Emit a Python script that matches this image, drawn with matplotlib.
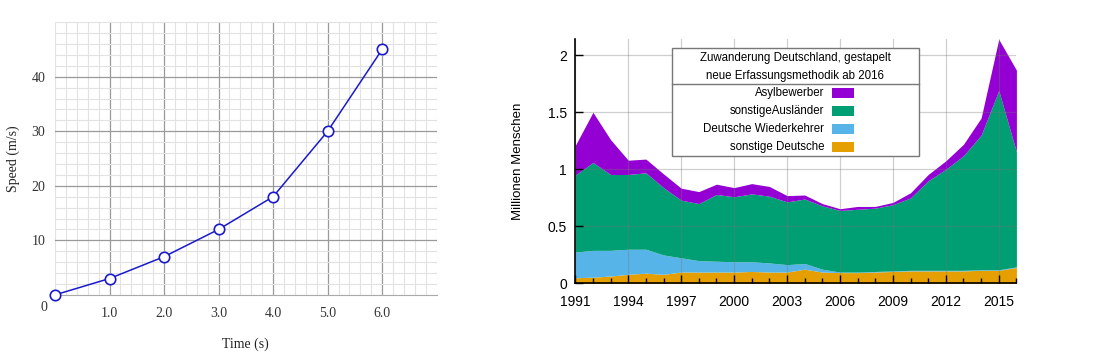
import matplotlib
matplotlib.use("Agg")
import matplotlib.pyplot as plt
from matplotlib.ticker import MultipleLocator, FuncFormatter
from matplotlib.lines import Line2D
from matplotlib.patches import Rectangle
import numpy as np

# === Left chart data: speed over time ===
time_s = [0, 1, 2, 3, 4, 5, 6]
speed_ms = [0, 3, 7, 12, 18, 30, 45]

# === Right chart data: Zuwanderung Deutschland (cumulative tops) ===
years = list(range(1991, 2017))
top_sonst_deutsche = [0.05, 0.055, 0.065, 0.08, 0.09, 0.08, 0.10, 0.10, 0.10, 0.10,
                      0.105, 0.10, 0.10, 0.125, 0.10, 0.095, 0.095, 0.10, 0.105, 0.11,
                      0.11, 0.11, 0.11, 0.115, 0.115, 0.14]
top_wiederkehrer = [0.275, 0.29, 0.29, 0.30, 0.30, 0.25, 0.225, 0.20, 0.195, 0.19,
                    0.19, 0.18, 0.165, 0.175, 0.125, 0.10, 0.10, 0.105, 0.11, 0.115,
                    0.115, 0.115, 0.115, 0.12, 0.12, 0.145]
top_auslaender = [0.95, 1.06, 0.955, 0.955, 0.97, 0.84, 0.73, 0.70, 0.78, 0.76,
                  0.785, 0.765, 0.715, 0.74, 0.68, 0.64, 0.65, 0.66, 0.69, 0.75,
                  0.90, 1.00, 1.12, 1.30, 1.69, 1.155]
top_asyl = [1.21, 1.50, 1.26, 1.08, 1.09, 0.96, 0.835, 0.805, 0.87, 0.84,
            0.875, 0.85, 0.77, 0.775, 0.70, 0.655, 0.675, 0.675, 0.71, 0.795,
            0.955, 1.075, 1.22, 1.45, 2.14, 1.87]
series_names = ["sonstige Deutsche", "Deutsche Wiederkehrer", "sonstigeAusländer", "Asylbewerber"]
series_colors = ["#E69F00", "#56B4E9", "#009E73", "#9400D3"]
legend_title = ["Zuwanderung Deutschland, gestapelt", "neue Erfassungsmethodik ab 2016"]
x_tick_years = list(range(1991, 2017, 3))

sans = ["Liberation Sans", "DejaVu Sans"]
serif = ["Liberation Serif", "DejaVu Serif"]

fig = plt.figure(figsize=(11, 3.57), dpi=100)
W, H = 1100.0, 357.0


def fx(px):
    return px / W


def fy(py):
    return 1 - py / H


# ---------------- Left chart ----------------
ax1 = fig.add_axes([0.05, 0.174, 0.347, 0.764])
ax1.set_xlim(0, 7)
ax1.set_ylim(0, 50)
ax1.xaxis.set_major_locator(MultipleLocator(1))
ax1.xaxis.set_minor_locator(MultipleLocator(0.2))
ax1.yaxis.set_major_locator(MultipleLocator(10))
ax1.yaxis.set_minor_locator(MultipleLocator(2))
ax1.grid(which="minor", color="#e2e2e2", linewidth=0.8)
ax1.grid(which="major", color="#9a9a9a", linewidth=0.9)
ax1.set_axisbelow(True)
for s in ["top", "right", "left"]:
    ax1.spines[s].set_visible(False)
ax1.spines["bottom"].set_color("#aaaaaa")
ax1.tick_params(which="both", length=0)
ax1.tick_params(axis="x", pad=9)
ax1.tick_params(axis="y", pad=7)
ax1.set_xticks([1, 2, 3, 4, 5, 6])
ax1.set_xticklabels([f"{v:.1f}" for v in [1, 2, 3, 4, 5, 6]], family=serif, fontsize=10, color="#333333")
ax1.set_yticks([10, 20, 30, 40])
ax1.set_yticklabels(["10", "20", "30", "40"], family=serif, fontsize=10, color="#333333")
ax1.annotate("0", (0, 0), xytext=(-8, -9), textcoords="offset points",
             ha="center", va="center", family=serif, fontsize=10, color="#333333")
ax1.plot(time_s, speed_ms, color="#1a1acc", linewidth=1.1, marker="o", markersize=7.5,
         markerfacecolor="white", markeredgecolor="#1a1acc", markeredgewidth=1.2,
         clip_on=False, zorder=5)
ax1.set_xlabel("Time (s)", family=serif, fontsize=10, labelpad=12, color="#222222")
ax1.set_ylabel("Speed (m/s)", family=serif, fontsize=10, labelpad=8, color="#222222")

# ---------------- Right chart ----------------
ax2 = fig.add_axes([0.523, 0.206, 0.401, 0.684])
tops = [top_sonst_deutsche, top_wiederkehrer, top_auslaender, top_asyl]
lower = np.zeros(len(years))
for name, col, top in zip(series_names, series_colors, tops):
    ax2.fill_between(years, lower, top, color=col, linewidth=0, label=name, zorder=1)
    lower = np.array(top)
ax2.set_xlim(1991, 2016)
ax2.set_ylim(0, 2.14)
ax2.set_xticks(x_tick_years)
ax2.xaxis.set_minor_locator(MultipleLocator(1))
ax2.yaxis.set_major_locator(MultipleLocator(0.5))
ax2.yaxis.set_major_formatter(FuncFormatter(lambda v, p: f"{v:g}"))
ax2.grid(which="major", color="#777777", alpha=0.35, linewidth=0.9, zorder=2)
ax2.set_axisbelow(False)
for s in ["top", "right"]:
    ax2.spines[s].set_visible(False)
for s in ["left", "bottom"]:
    ax2.spines[s].set_zorder(4)
    ax2.spines[s].set_linewidth(1.2)
ax2.tick_params(which="major", direction="in", length=6, width=1, labelsize=10, pad=8)
ax2.tick_params(axis="y", pad=6)
ax2.tick_params(which="minor", direction="in", length=3.5, width=1)
for lab in ax2.get_xticklabels() + ax2.get_yticklabels():
    lab.set_family(sans)
ax2.set_ylabel("Millionen Menschen", family=sans, fontsize=9.5, labelpad=17)

# legend box (gnuplot style: centred title, separator, right-aligned labels with swatches)
box_l, box_r, box_t, box_b = 671.7, 918.7, 48.3, 155.7
fig.add_artist(Rectangle((fx(box_l), fy(box_b)), fx(box_r) - fx(box_l), fy(box_t) - fy(box_b),
                         facecolor="white", edgecolor="#777777", linewidth=1.0, zorder=10))
fig.add_artist(Line2D([fx(box_l), fx(box_r)], [fy(84.3), fy(84.3)], color="#777777",
                      linewidth=1.0, zorder=11))
for i, line in enumerate(legend_title):
    fig.text(fx((box_l + box_r) / 2), fy(57.7 + 18 * i), line, ha="center", va="center",
             family=sans, fontsize=8.3, zorder=12)
for i, idx in enumerate([3, 2, 1, 0]):
    yc = 93.3 + 17.8 * i
    fig.text(fx(824), fy(yc), series_names[idx], ha="right", va="center",
             family=sans, fontsize=8.3, zorder=12)
    fig.add_artist(Rectangle((fx(832), fy(yc + 5)), fx(854) - fx(832), fy(yc - 5) - fy(yc + 5),
                             facecolor=series_colors[idx], edgecolor="none", zorder=12))

fig.savefig("out.png", dpi=100)
